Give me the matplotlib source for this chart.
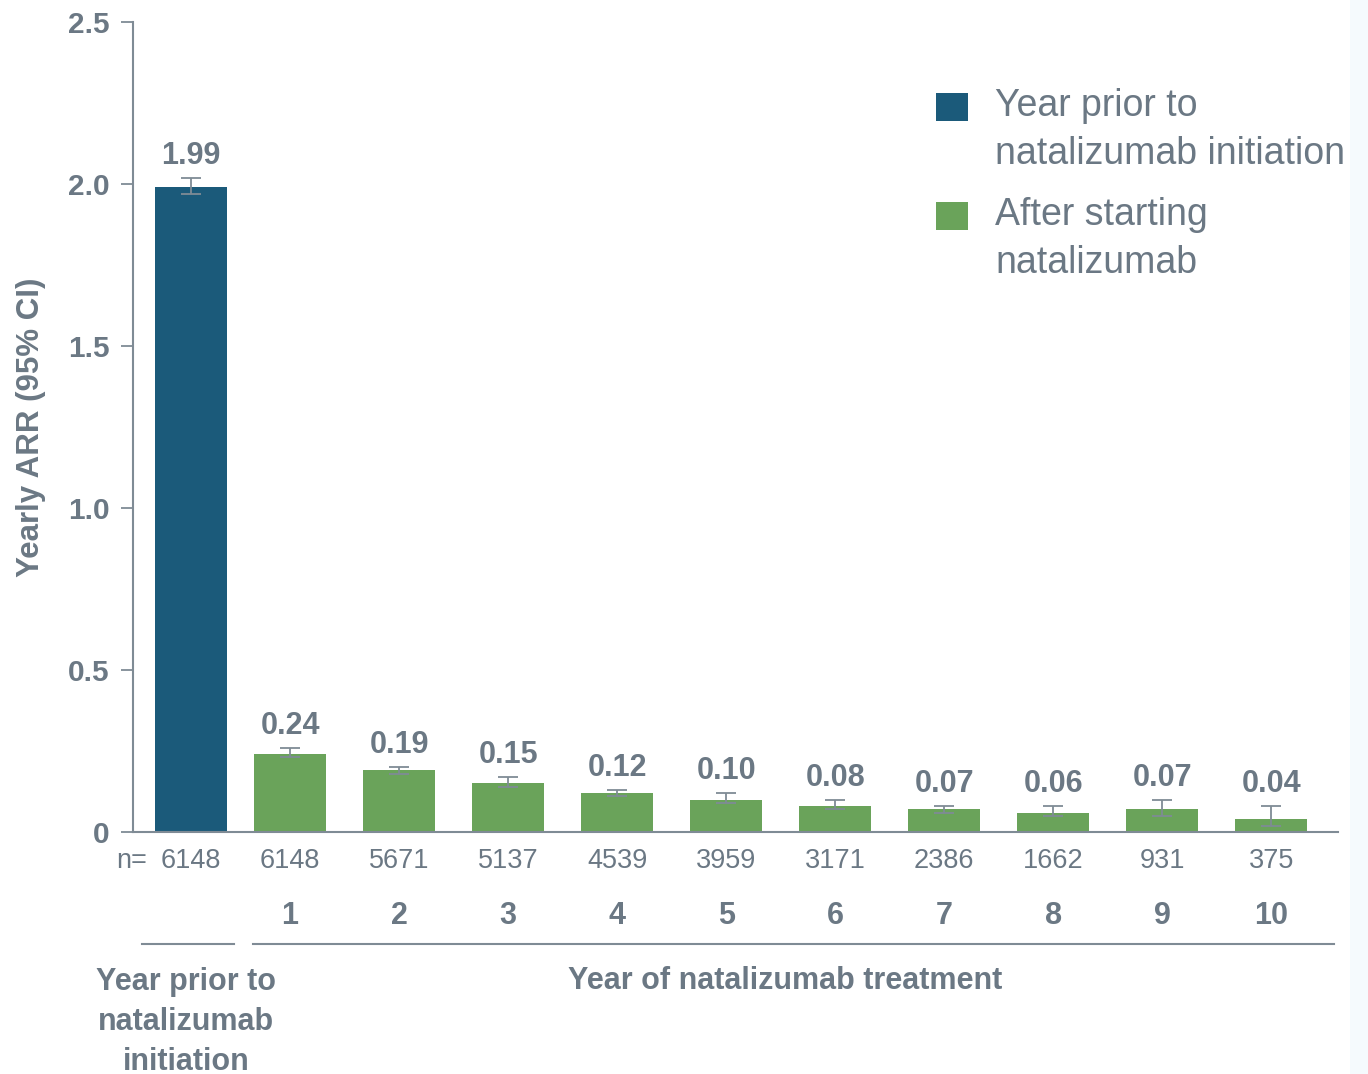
import matplotlib
matplotlib.use('Agg')
import matplotlib.pyplot as plt
from matplotlib.patches import Rectangle
import numpy as np

plt.rcParams.update({
    'font.family': ['Liberation Sans', 'DejaVu Sans'],
})

NAVY = '#1B5A7A'
GREEN = '#6AA35A'
TEXT = '#6B7884'
AXIS = '#7F8B95'

# data
years = ['', '1', '2', '3', '4', '5', '6', '7', '8', '9', '10']
n_patients = [6148, 6148, 5671, 5137, 4539, 3959, 3171, 2386, 1662, 931, 375]
arr = [1.99, 0.24, 0.19, 0.15, 0.12, 0.10, 0.08, 0.07, 0.06, 0.07, 0.04]
ci_low = [1.97, 0.23, 0.18, 0.14, 0.11, 0.09, 0.07, 0.06, 0.05, 0.05, 0.02]
ci_high = [2.02, 0.26, 0.20, 0.17, 0.13, 0.12, 0.10, 0.08, 0.08, 0.10, 0.08]
arr_labels = ['1.99', '0.24', '0.19', '0.15', '0.12', '0.10', '0.08', '0.07', '0.06', '0.07', '0.04']
legend_labels = ['Year prior to\nnatalizumab initiation', 'After starting\nnatalizumab']

x = np.array([0.09] + list(range(1, 11)), dtype=float)
colors = [NAVY] + [GREEN] * 10

fig = plt.figure(figsize=(13.68, 10.74), dpi=100)
ax = fig.add_axes([133 / 1368, 1 - 832 / 1074, 1205 / 1368, 810 / 1074])

# faint strip at the right edge of the slide
fig.patches.append(Rectangle((1350 / 1368, 0), 18 / 1368, 1, transform=fig.transFigure,
                             facecolor='#F5FAFD', edgecolor='none', zorder=0))

ax.bar(x, arr, width=0.66, color=colors, zorder=2)
yerr = [np.array(arr) - np.array(ci_low), np.array(ci_high) - np.array(arr)]
ax.errorbar(x, arr, yerr=yerr, fmt='none', ecolor=AXIS, elinewidth=1.3,
            capsize=7, capthick=1.3, zorder=3)

for xi, hi, lab in zip(x, ci_high, arr_labels):
    ax.annotate(lab, (xi, hi), xytext=(0, 5), textcoords='offset points',
                ha='center', va='bottom', fontsize=22, fontweight='bold', color=TEXT)

ax.set_xlim(-0.44, 10.61)
ax.set_ylim(0, 2.5)
ax.set_yticks([0, 0.5, 1.0, 1.5, 2.0, 2.5])
ax.set_yticklabels(['0', '0.5', '1.0', '1.5', '2.0', '2.5'], fontsize=21.5,
                   fontweight='bold', color=TEXT)
ax.tick_params(axis='y', length=9, width=1.3, color=AXIS, pad=8)
ax.set_xticks([])
for s in ['top', 'right']:
    ax.spines[s].set_visible(False)
for s in ['left', 'bottom']:
    ax.spines[s].set_color(AXIS)
    ax.spines[s].set_linewidth(1.5)

ax.set_ylabel('Yearly ARR (95% CI)', fontsize=22.5, fontweight='bold', color=TEXT, labelpad=16)

def yfrac(py):
    return (832 - py) / 810

def xfrac(px):
    return (px - 133) / 1205

tr = ax.get_xaxis_transform()
ax.text(-0.31, yfrac(861), 'n=', transform=tr, ha='right', va='center',
        fontsize=19.5, color=TEXT)
for xi, n, yr in zip(x, n_patients, years):
    ax.text(xi, yfrac(861), str(n), transform=tr, ha='center', va='center',
            fontsize=19.5, color=TEXT)
    ax.text(xi, yfrac(916), yr, transform=tr, ha='center', va='center',
            fontsize=22, fontweight='bold', color=TEXT)

ax.plot([-0.36, 0.49], [yfrac(944)] * 2, transform=tr, color=AXIS, lw=1.5, clip_on=False)
ax.plot([0.66, 10.57], [yfrac(944)] * 2, transform=tr, color=AXIS, lw=1.5, clip_on=False)

ax.text(0.05, yfrac(1022), 'Year prior to\nnatalizumab\ninitiation', transform=tr,
        ha='center', va='center', fontsize=22, fontweight='bold', color=TEXT,
        linespacing=1.42)
ax.text(5.54, yfrac(981), 'Year of natalizumab treatment', transform=tr,
        ha='center', va='center', fontsize=22, fontweight='bold', color=TEXT)

# legend, drawn by hand to sit like the slide
for (top, lab, col) in zip([93, 202], legend_labels, [NAVY, GREEN]):
    ax.add_patch(Rectangle((xfrac(936), yfrac(top + 28)), 32 / 1205, 28 / 810,
                           transform=ax.transAxes, facecolor=col, edgecolor='none',
                           clip_on=False))
    ax.text(xfrac(995), yfrac(top + 37), lab, transform=ax.transAxes,
            ha='left', va='center', fontsize=27, color=TEXT, linespacing=1.4)

fig.savefig('out.png', dpi=100)
